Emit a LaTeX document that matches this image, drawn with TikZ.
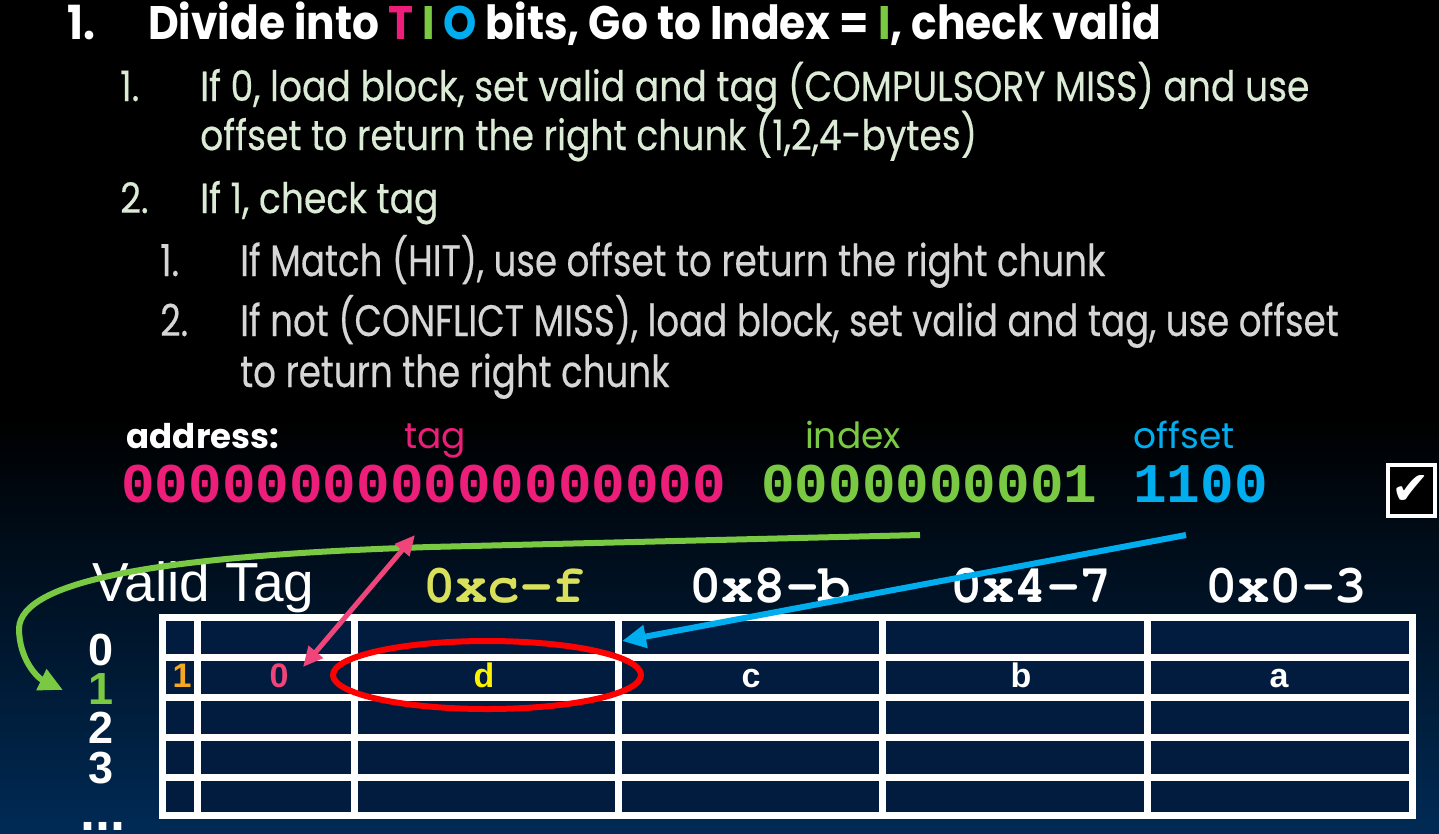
\documentclass[tikz,border=0pt]{standalone}
\usepackage[T1]{fontenc}
\usepackage{fontspec}
\setmainfont{Poppins}
\newfontfamily\headfont[FakeStretch=0.90]{Poppins}
\newfontfamily\lvltwofont[FakeStretch=0.86,FakeBold=0.4]{Poppins}
\newfontfamily\lvlthreefont[FakeStretch=0.81,FakeBold=0.4]{Poppins}
\newfontfamily\bitfont{Liberation Mono}
\newfontfamily\tabfont{Liberation Sans}
\newfontfamily\symfont{DejaVu Sans}
\newcommand\courbf{\fontencoding{T1}\fontfamily{pcr}\fontseries{b}\selectfont}
\usepackage{tikz}
\usetikzlibrary{arrows.meta,positioning,calc}
\definecolor{TioPink}{HTML}{EC1E79}
\definecolor{TioGreen}{HTML}{7AC943}
\definecolor{TioCyan}{HTML}{00AEEF}
\definecolor{LvlTwo}{HTML}{DCEBD5}
\definecolor{LvlThree}{HTML}{D6D6D6}
\definecolor{CellNavy}{HTML}{011C3E}
\definecolor{DeepNavy}{HTML}{002A55}
\definecolor{HeadYellow}{HTML}{D9E05A}
\definecolor{ValidOrange}{HTML}{F7A823}
\definecolor{TagRose}{HTML}{F0457A}

\begin{document}
\begin{tikzpicture}[x=1pt,y=-1pt,
  txt/.style={inner sep=0pt,anchor=base west},
  lone/.style={txt,text=white,font=\headfont\bfseries\fontsize{47}{50}\selectfont},
  ltwo/.style={txt,text=LvlTwo,font=\lvltwofont\fontsize{42}{48}\selectfont},
  lthree/.style={txt,text=LvlThree,font=\lvlthreefont\fontsize{44}{50}\selectfont},
  field/.style={inner sep=0pt,anchor=base,font=\fontsize{36}{40}\selectfont},
  bits/.style={inner sep=0pt,anchor=base west,font=\bitfont\bfseries\fontsize{56}{60}\selectfont},
  colhead/.style={inner sep=0pt,anchor=base,font=\courbf\fontsize{54}{60}\selectfont},
  rowlbl/.style={inner sep=0pt,anchor=base,text=white,font=\tabfont\bfseries\fontsize{45}{50}\selectfont},
  cell/.style={inner sep=0pt,anchor=base,text=white,font=\tabfont\bfseries\fontsize{34}{40}\selectfont},
  gridline/.style={draw=white,line width=7pt},
  wire/.style={line width=6pt}]
\useasboundingbox (0,0) rectangle (1439,833);
\fill[black] (0,0) rectangle (1439,420);
\shade[top color=black,bottom color=DeepNavy] (0,420) rectangle (1439,833);

\node[lone] (n1) at (67,39) {1.};
\node[lone] (head) at (148,39) {Divide into \textcolor{TioPink}{T} \textcolor{TioGreen}{I} \textcolor{TioCyan}{O} bits, Go to Index = \textcolor{TioGreen}{I}, check valid};
\node[ltwo] (n11) at (120,101) {1.};
\node[ltwo] (comp) at (200,101) {If 0, load block, set valid and tag (COMPULSORY MISS) and use};
\node[ltwo] (compb) at (200,150) {offset to return the right chunk (1,2,4-bytes)};
\node[ltwo] (n12) at (120,213) {2.};
\node[ltwo] (chk) at (200,213) {If 1, check tag};
\node[lthree] (n121) at (160,276) {1.};
\node[lthree] (hit) at (240,276) {If Match (HIT), use offset to return the right chunk};
\node[lthree] (n122) at (160,336) {2.};
\node[lthree] (conf) at (240,336) {If not (CONFLICT MISS), load block, set valid and tag, use offset};
\node[lthree] (confb) at (240,387) {to return the right chunk};

\node[field,text=white,font=\bfseries\fontsize{34}{40}\selectfont] (addr) at (203,448) {address:};
\node[field,text=TioPink] (tagl) at (435,448) {tag};
\node[field,text=TioGreen] (idxl) at (853,448) {index};
\node[field,text=TioCyan] (offl) at (1184,448) {offset};
\node[bits,text=TioPink] (tagbits) at (121,502) {000000000000000000};
\node[bits,text=TioGreen] (idxbits) at (761,502) {0000000001};
\node[bits,text=TioCyan] (offbits) at (1133,502) {1100};
\node[draw=white,line width=4pt,fill=black,minimum width=47pt,minimum height=51pt,inner sep=0pt,
  text=white,font=\symfont\fontsize{46}{46}\selectfont] (tick) at (1411,490) {✔};

\node[inner sep=0pt,anchor=base west,text=white,font=\tabfont\fontsize{55}{58}\selectfont] (vt) at (92,601) {Valid Tag};
\node[colhead,text=HeadYellow] (hcf) at (504,602) {0xc-f};
\node[colhead,text=white] (h8b) at (770,602) {0x8-b};
\node[colhead,text=white] (h47) at (1031,602) {0x4-7};
\node[colhead,text=white] (h03) at (1286,602) {0x0-3};

\fill[CellNavy] (162,617) rectangle (1412,815);
\foreach \x in {197,354,618,882,1147}
  \draw[gridline] (\x,617) -- (\x,815);
\foreach \y in {657,697,737,777}
  \draw[gridline] (162,\y) -- (1412,\y);
\draw[gridline] (162,617) rectangle (1412,815);

\node[rowlbl] (r0) at (101,665) {0};
\node[rowlbl,text=TioGreen] (r1) at (101,704) {1};
\node[rowlbl] (r2) at (101,743) {2};
\node[rowlbl] (r3) at (101,783) {3};
\node[rowlbl,font=\tabfont\bfseries\fontsize{54}{50}\selectfont] (rdots) at (103,830) {...};

\node[cell,text=ValidOrange] (v1) at (182,687) {1};
\node[cell,text=TagRose] (t1) at (279,687) {0};
\node[cell,text=yellow] (d1) at (484,687) {d};
\node[cell] (c1) at (751,687) {c};
\node[cell] (b1) at (1021,687) {b};
\node[cell] (a1) at (1279,687) {a};

\coordinate (ring) at (487,675);
\draw[red,line width=6pt] (ring) ellipse [x radius=154pt,y radius=34pt];

\coordinate (gs) at (920,535);
\coordinate (ge) at (63,690);
\coordinate (ps) at (415,535);
\coordinate (pe) at (303,667);
\coordinate (cs) at (1186,535);
\coordinate (ce) at (622,641);
\draw[wire,TioGreen,-{Triangle[length=24pt,width=22pt]}] (gs) -- (430,547) .. controls (150,556) and (22,582) .. (19,628) .. controls (19,660) and (38,678) .. (ge);
\draw[wire,line width=5pt,TagRose,{Triangle[length=20pt,width=18pt]}-{Triangle[length=20pt,width=18pt]}] (ps) -- (pe);
\draw[wire,TioCyan,-{Triangle[length=24pt,width=22pt]}] (cs) -- (ce);
\end{tikzpicture}
\end{document}
